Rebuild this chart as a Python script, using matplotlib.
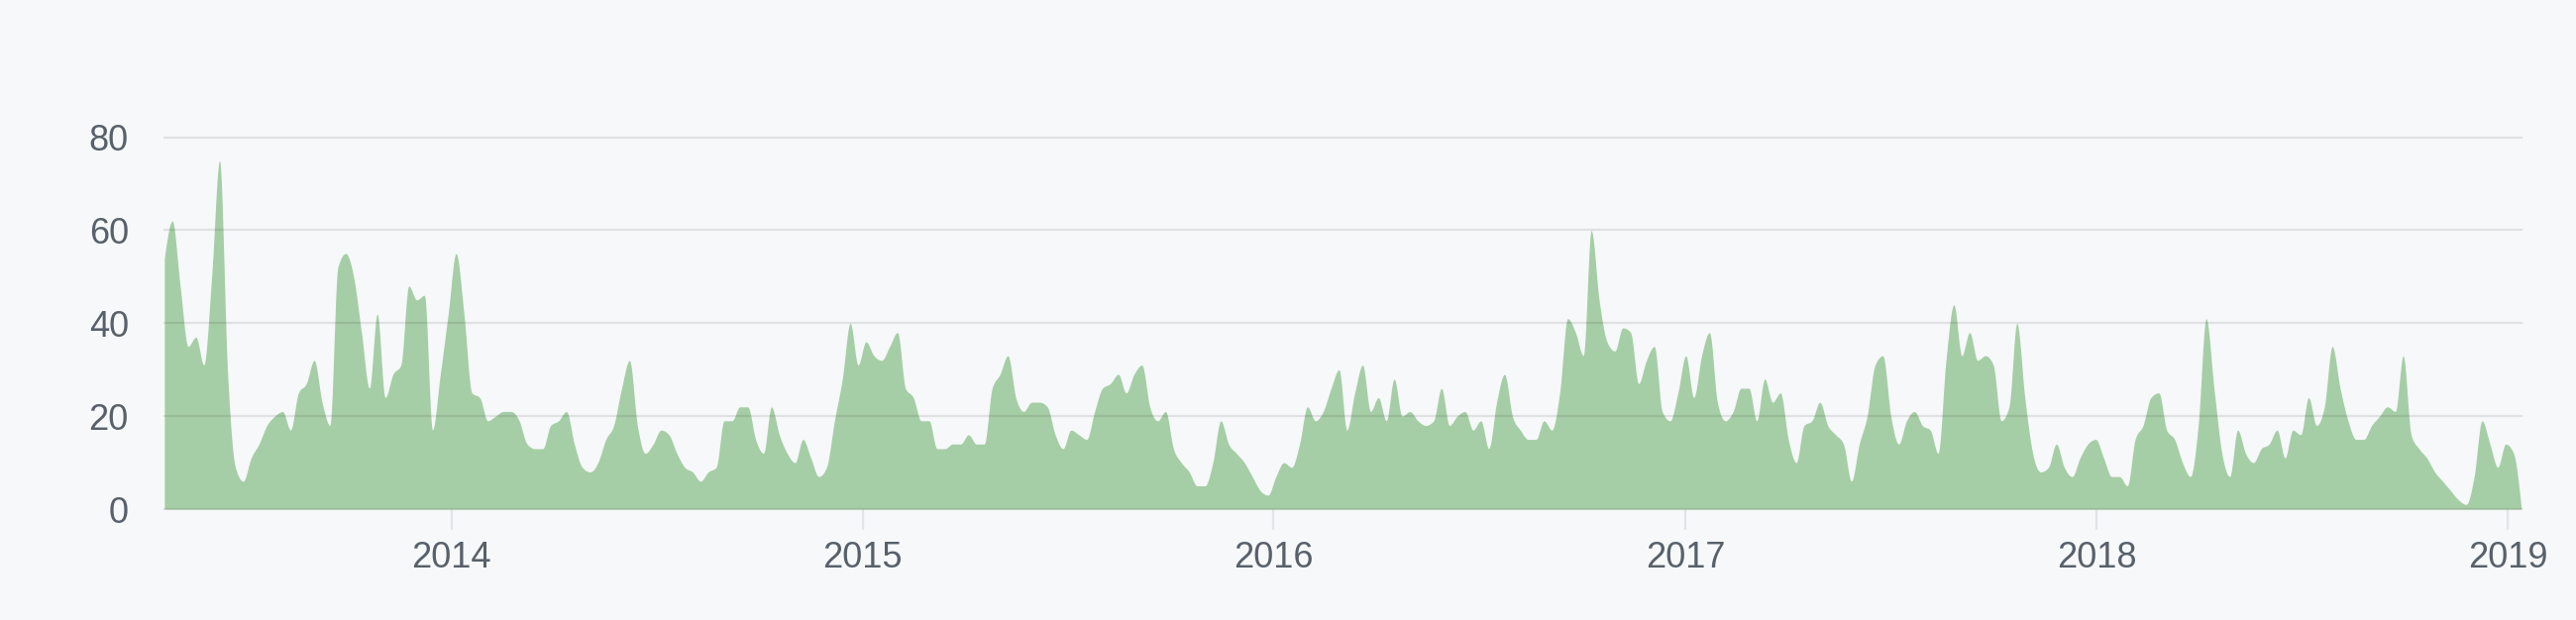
import numpy as np
import matplotlib
matplotlib.use("Agg")
import matplotlib.pyplot as plt
import matplotlib.dates as mdates

# weekly commit counts, first week starting 2013-04-21
START_WEEK = "2013-04-21"
COMMITS = [
    54, 62, 48, 35, 37, 31, 50, 75, 30, 9,
    6, 11, 14, 18, 20, 21, 17, 25, 27, 32,
    23, 18, 52, 55, 50, 38, 26, 42, 24, 29,
    31, 48, 45, 46, 17, 29, 42, 55, 42, 25,
    24, 19, 20, 21, 21, 19, 14, 13, 13, 18,
    19, 21, 14, 9, 8, 10, 15, 18, 26, 32,
    18, 12, 14, 17, 16, 12, 9, 8, 6, 8,
    9, 19, 19, 22, 22, 15, 12, 22, 16, 12,
    10, 15, 11, 7, 9, 19, 28, 40, 31, 36,
    33, 32, 35, 38, 26, 24, 19, 19, 13, 13,
    14, 14, 16, 14, 14, 26, 29, 33, 24, 21,
    23, 23, 22, 16, 13, 17, 16, 15, 21, 26,
    27, 29, 25, 29, 31, 22, 19, 21, 13, 10,
    8, 5, 5, 10, 19, 14, 12, 10, 7, 4,
    3, 7, 10, 9, 14, 22, 19, 21, 26, 30,
    17, 25, 31, 21, 24, 19, 28, 20, 21, 19,
    18, 19, 26, 18, 20, 21, 17, 19, 13, 23,
    29, 20, 17, 15, 15, 19, 17, 25, 41, 38,
    33, 60, 45, 36, 34, 39, 38, 27, 32, 35,
    21, 19, 25, 33, 24, 33, 38, 23, 19, 21,
    26, 26, 19, 28, 23, 25, 15, 10, 18, 19,
    23, 18, 16, 14, 6, 14, 20, 31, 33, 20,
    14, 19, 21, 18, 17, 12, 32, 44, 33, 38,
    32, 33, 31, 19, 22, 40, 24, 12, 8, 9,
    14, 9, 7, 11, 14, 15, 11, 7, 7, 5,
    15, 18, 24, 25, 17, 15, 10, 7, 18, 41,
    26, 12, 7, 17, 12, 10, 13, 14, 17, 11,
    17, 16, 24, 18, 22, 35, 26, 19, 15, 15,
    18, 20, 22, 21, 33, 16, 13, 11, 8, 6,
    4, 2, 1, 7, 19, 14, 9, 14, 12, 0,
]
Y_TICKS = [0, 20, 40, 60, 80]
X_TICK_YEARS = [2014, 2015, 2016, 2017, 2018, 2019]

BG = "#f6f8fa"
FILL = "#a6cea6"
TEXT = "#586069"
TICK = "#e1e4e8"


def monotone_curve(x, y, steps=12):
    """Monotone cubic (Steffen) interpolation, like d3.curveMonotoneX."""
    x = np.asarray(x, float)
    y = np.asarray(y, float)
    h = np.diff(x)
    s = np.diff(y) / h
    m = np.zeros_like(y)
    for i in range(1, len(y) - 1):
        s0, s1 = s[i - 1], s[i]
        p = (s0 * h[i] + s1 * h[i - 1]) / (h[i - 1] + h[i])
        m[i] = (np.sign(s0) + np.sign(s1)) * min(abs(s0), abs(s1), 0.5 * abs(p))
    m[0] = (3 * s[0] - m[1]) / 2
    m[-1] = (3 * s[-1] - m[-2]) / 2

    t = np.linspace(0, 1, steps, endpoint=False)
    h00 = 2 * t**3 - 3 * t**2 + 1
    h10 = t**3 - 2 * t**2 + t
    h01 = -2 * t**3 + 3 * t**2
    h11 = t**3 - t**2
    xs, ys = [], []
    for i in range(len(y) - 1):
        xs.append(x[i] + t * h[i])
        ys.append(h00 * y[i] + h10 * h[i] * m[i] + h01 * y[i + 1] + h11 * h[i] * m[i + 1])
    xs.append([x[-1]])
    ys.append([y[-1]])
    return np.concatenate(xs), np.clip(np.concatenate(ys), 0, None)


weeks = np.datetime64(START_WEEK) + np.arange(len(COMMITS)) * np.timedelta64(7, "D")
x = mdates.date2num(weeks)
xs, ys = monotone_curve(x, COMMITS)

plt.rcParams["font.family"] = ["Liberation Sans", "DejaVu Sans"]

fig = plt.figure(figsize=(26, 6.26), dpi=100, facecolor=BG)
ax = fig.add_axes([0.0638, 0.1789, 0.915, 0.5998])
ax.set_facecolor(BG)

ax.fill_between(xs, 0, ys, color=FILL, lw=0, zorder=2)
for v in Y_TICKS:
    ax.axhline(v, color="black", alpha=0.09, lw=1.6, zorder=3, clip_on=False)

ax.set_xlim(x[0], x[-1])
ax.set_ylim(0, 80)
for sp in ax.spines.values():
    sp.set_visible(False)

ax.set_yticks(Y_TICKS)
ax.set_yticklabels([str(v) for v in Y_TICKS])
ax.tick_params(axis="y", length=0, pad=26, labelsize=26, labelcolor=TEXT)

year_ticks = mdates.date2num([np.datetime64(f"{y}-01-01") for y in X_TICK_YEARS])
ax.set_xticks(year_ticks)
ax.set_xticklabels([str(y) for y in X_TICK_YEARS])
ax.tick_params(axis="x", length=15, width=1.6, color=TICK, pad=8,
               labelsize=26, labelcolor=TEXT)

fig.savefig("out.png", dpi=100, facecolor=BG)
